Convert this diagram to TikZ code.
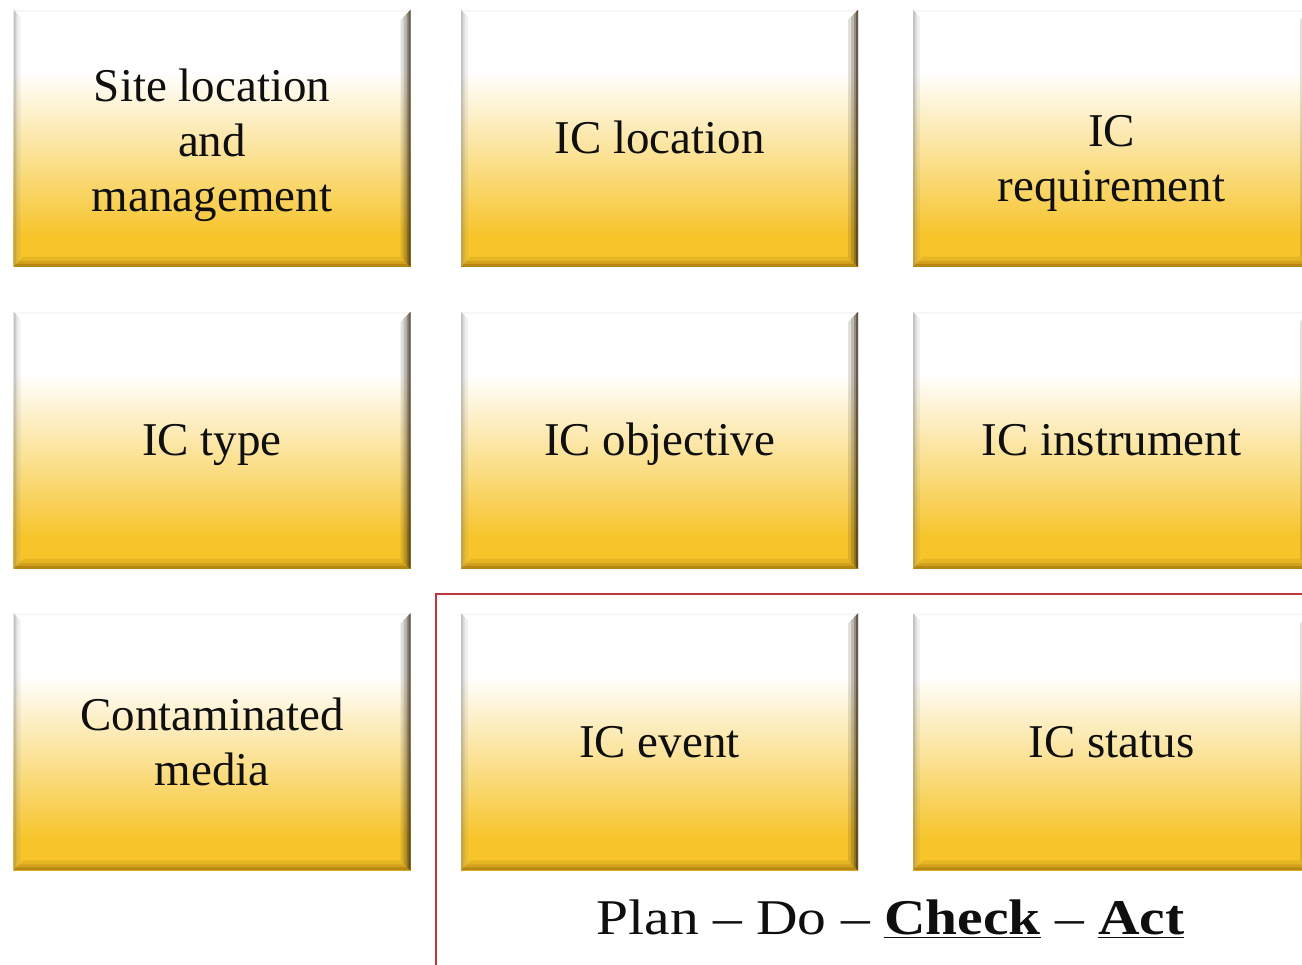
\documentclass[tikz,border=0pt]{standalone}
\usepackage{fontspec}
\setmainfont{Liberation Serif}
\newfontfamily\pdcafont[FakeStretch=1.15]{Liberation Serif}
\usetikzlibrary{calc}
\definecolor{gold}{RGB}{247,196,42}
\definecolor{shadowbrown}{RGB}{55,42,18}
\definecolor{bottombrown}{RGB}{130,90,0}
\definecolor{edgegray}{RGB}{120,120,120}
\definecolor{framered}{RGB}{190,55,60}
\definecolor{inktext}{RGB}{15,15,15}
\pgfdeclareverticalshading{boxshade}{100bp}{color(0bp)=(gold); color(25bp)=(gold); color(31bp)=(gold); color(50bp)=(gold!40!white); color(63bp)=(white); color(100bp)=(white)}
\tikzset{
  icbox/.style={rectangle, inner sep=0pt, minimum width=397pt, minimum height=257pt,
    shading=boxshade, align=center, text=inktext, font=\fontsize{47}{55}\selectfont,
    path picture={
      \coordinate (bnw) at (path picture bounding box.north west);
      \coordinate (bne) at (path picture bounding box.north east);
      \coordinate (bsw) at (path picture bounding box.south west);
      \coordinate (bse) at (path picture bounding box.south east);
      \foreach \w/\o in {2/0.06}{
        \fill[edgegray, opacity=\o] (bnw) -- (bne) -- ($(bne)+(-\w,-\w)$) -- ($(bnw)+(\w,-\w)$) -- cycle;}
      \foreach \w/\o in {7/0.10,4/0.15,2/0.25}{
        \fill[edgegray, opacity=\o] (bnw) -- (bsw) -- ($(bsw)+(\w,\w)$) -- ($(bnw)+(\w,-\w)$) -- cycle;}
      \foreach \w/\o in {10/0.14,6/0.2,3/0.35}{
        \fill[bottombrown, opacity=\o] (bsw) -- (bse) -- ($(bse)+(-\w,\w)$) -- ($(bsw)+(\w,\w)$) -- cycle;}
      \foreach \w/\o in {10/0.14,7/0.2,4/0.32,2/0.5}{
        \fill[shadowbrown, opacity=\o] (bne) -- (bse) -- ($(bse)+(-\w,\w)$) -- ($(bne)+(-\w,-\w)$) -- cycle;}
    }},
  oneline/.style={text height=31pt, text depth=0pt},
  boxtext/.style={inner sep=0pt, align=center, text=inktext, font=\fontsize{47}{55}\selectfont},
  pdcaframe/.style={draw=framered, line width=2pt},
  pdcatext/.style={anchor=base, inner sep=0pt, text=inktext, font=\pdcafont\fontsize{50}{60}\selectfont}
}
\begin{document}
\begin{tikzpicture}[x=1pt,y=1pt]
\useasboundingbox (0,0) rectangle (1302,965);
\clip (0,0) rectangle (1302,965);
\fill[white] (0,0) rectangle (1302,965);
% row 1
\node[icbox] (site) at (212,826.5) {};
\node[boxtext] (sitetext) at ([yshift=-7pt]site.center) {Site location\\and\\management};
\node[icbox, oneline] (loc) at (659.5,826.5) {IC location};
\node[icbox] (req) at (1111.5,826.5) {};
\node[boxtext] (reqtext) at ([yshift=-25pt]req.center) {IC\\requirement};
% row 2
\node[icbox, oneline] (type) at (212,524.5) {IC type};
\node[icbox, oneline] (obj) at (659.5,524.5) {IC objective};
\node[icbox, oneline] (instr) at (1111.5,524.5) {IC instrument};
% row 3
\node[icbox] (media) at (212,223) {Contaminated\\media};
\node[icbox, oneline] (event) at (659.5,223) {IC event};
\node[icbox, oneline] (status) at (1111.5,223) {IC status};
% frame and PDCA line
\draw[pdcaframe] (436,-20) rectangle (1340,371);
\node[pdcatext] (pdca) at (890.5,30) {Plan – Do – \underline{\textbf{Check}} – \underline{\textbf{Act}}};
\end{tikzpicture}
\end{document}
